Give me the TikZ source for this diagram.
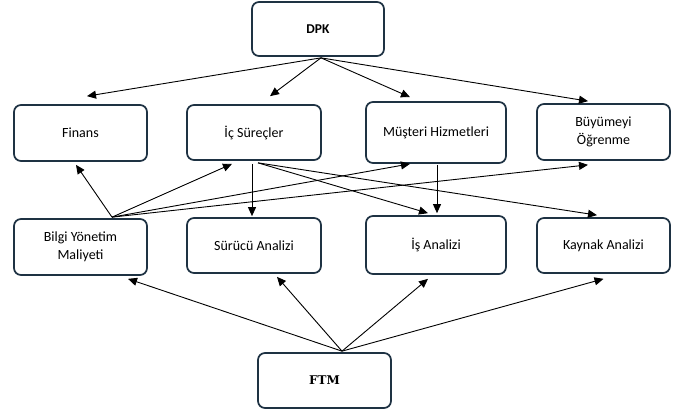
\documentclass[tikz,border=0pt]{standalone}
\usepackage{fontspec}
\setmainfont{Carlito}
\newfontfamily\ftmfont{DejaVu Serif}
\usetikzlibrary{arrows.meta,calc}
\definecolor{boxline}{HTML}{1E3243}
\begin{document}
\begin{tikzpicture}[x=1pt,y=-1pt,
  box/.style={draw=boxline,line width=1.7pt,rounded corners=7pt,fill=white,
    align=center,font=\fontsize{14}{18}\selectfont,inner sep=2pt},
  arr/.style={draw=black,line width=0.9pt,-{Triangle[length=9pt,width=8pt]}}]
\useasboundingbox (0,0) rectangle (682,412);
\node[box,minimum width=132pt,minimum height=54pt,font=\fontsize{13.5}{16}\selectfont\bfseries] (dpk) at (318,29) {DPK};
\node[box,minimum width=133pt,minimum height=56pt] (fin) at (80.5,133) {Finans};
\node[box,minimum width=134pt,minimum height=55pt] (ic) at (254,132.5) {İç Süreçler};
\node[box,minimum width=140pt,minimum height=61pt] (mus) at (436,132.5) {Müşteri Hizmetleri};
\node[box,minimum width=133pt,minimum height=56pt] (buy) at (603.5,132) {Büyümeyi\\Öğrenme};
\node[box,minimum width=133pt,minimum height=56pt] (bil) at (80.5,247) {Bilgi Yönetim\\Maliyeti};
\node[box,minimum width=134pt,minimum height=55pt] (sur) at (254,245.5) {Sürücü Analizi};
\node[box,minimum width=140pt,minimum height=58pt] (is) at (436,245) {İş Analizi};
\node[box,minimum width=133pt,minimum height=55pt] (kay) at (603.5,245.5) {Kaynak Analizi};
\node[box,minimum width=133pt,minimum height=55pt,font=\fontsize{12}{14}\selectfont\ftmfont\bfseries] (ftm) at (324.5,380.5) {FTM};
% start points
\coordinate (dpkS) at ([xshift=3pt,yshift=-1pt]dpk.south);
\coordinate (bilN) at ([xshift=31.5pt,yshift=1pt]bil.north);
\coordinate (icA) at ([xshift=-2pt,yshift=-3pt]ic.south);
\coordinate (icB) at ([xshift=4pt,yshift=-2pt]ic.south);
\coordinate (musS) at ([xshift=1pt,yshift=-1pt]mus.south);
\coordinate (ftmN) at ([xshift=17.5pt,yshift=1pt]ftm.north);
% DPK arrows
\draw[arr] (dpkS) -- ([xshift=6.5pt,yshift=8pt]fin.north);
\draw[arr] (dpkS) -- ([xshift=16pt,yshift=8pt]ic.north);
\draw[arr] (dpkS) -- ([xshift=-26pt,yshift=4pt]mus.north);
\draw[arr] (dpkS) -- ([xshift=-15.5pt,yshift=2pt]buy.north);
% Bilgi arrows
\draw[arr] (bilN) -- ([xshift=-4.5pt,yshift=-3pt]fin.south);
\draw[arr] (bilN) -- ([xshift=-22pt,yshift=-3pt]ic.south);
\draw[arr] (bilN) -- ([xshift=-26pt,yshift=0pt]mus.south);
\draw[arr] (bilN) -- ([xshift=-15.5pt,yshift=-4pt]buy.south);
% Ic Surecler arrows
\draw[arr] (icA) -- ([xshift=-2pt,yshift=1pt]sur.north);
\draw[arr] (icB) -- ([xshift=-8pt,yshift=2pt]is.north);
\draw[arr] (icB) -- ([xshift=-6.5pt,yshift=2pt]kay.north);
% Musteri arrow
\draw[arr] (musS) -- ([xshift=1pt,yshift=2pt]is.north);
% FTM arrows
\draw[arr] (ftmN) -- ([xshift=47.5pt,yshift=-3pt]bil.south);
\draw[arr] (ftmN) -- ([xshift=23pt,yshift=-3pt]sur.south);
\draw[arr] (ftmN) -- ([xshift=-8pt,yshift=-4pt]is.south);
\draw[arr] (ftmN) -- ([xshift=0pt,yshift=-5pt]kay.south);
\end{tikzpicture}
\end{document}
